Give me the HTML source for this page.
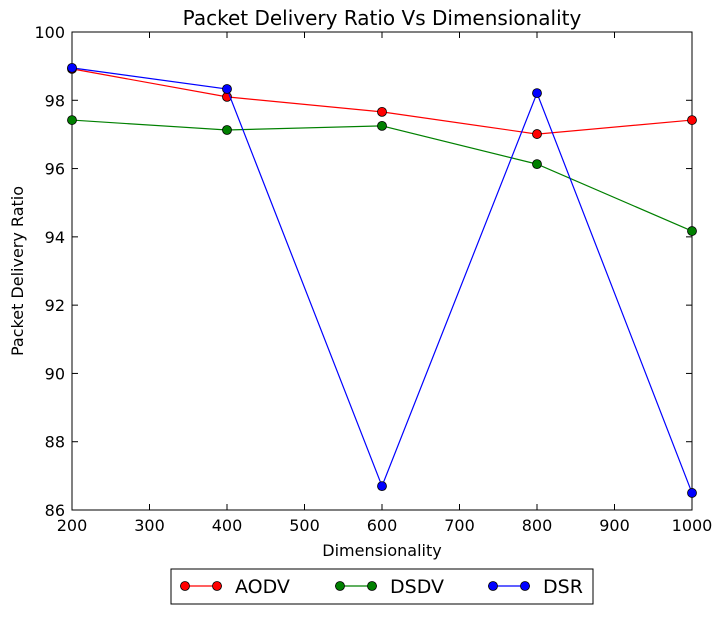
<!DOCTYPE html>
<html><head><meta charset="utf-8">
<style>
body{margin:0;background:#fff;}
svg text{font-family:"DejaVu Sans","Liberation Sans",sans-serif;}
</style></head>
<body>
<svg id="chart" width="723" height="614" xmlns="http://www.w3.org/2000/svg">
<rect width="723" height="614" fill="#fff"/>
<text x="382" y="25" font-size="20" text-anchor="middle">Packet Delivery Ratio Vs Dimensionality</text>
<g id="axes"></g>
<g id="series"></g>
<text x="382" y="556" font-size="16" text-anchor="middle">Dimensionality</text>
<text transform="translate(23,271) rotate(-90)" font-size="16" text-anchor="middle">Packet Delivery Ratio</text>
<g id="legend">
<rect x="171" y="569" width="422" height="35" fill="#fff" stroke="#000" stroke-width="1"/>
</g>
</svg>
<script>
const categories=[200,400,600,800,1000];
const aodv=[98.92,98.1,97.66,97.01,97.42];
const dsdv=[97.42,97.13,97.25,96.13,94.17];
const dsr=[98.95,98.33,86.7,98.21,86.5];
const xTicks=[200,300,400,500,600,700,800,900,1000];
const yTicks=[86,88,90,92,94,96,98,100];
const seriesNames=["AODV","DSDV","DSR"];
const seriesColors=["#ff0000","#008000","#0000ff"];
const L=72,R=692,T=32,B=510;
const xs=v=>L+(v-200)/800*(R-L);
const ys=v=>B-(v-86)/14*(B-T);
const NS="http://www.w3.org/2000/svg";
function mk(t,a,p){const e=document.createElementNS(NS,t);for(const k in a)e.setAttribute(k,a[k]);p.appendChild(e);return e;}
const ax=document.getElementById('axes');
xTicks.forEach(t=>{const x=xs(t);
 mk('line',{x1:x,x2:x,y1:B,y2:B-6,stroke:'#000'},ax);
 mk('line',{x1:x,x2:x,y1:T,y2:T+6,stroke:'#000'},ax);
 const tx=mk('text',{x:x,y:B+21,'font-size':16,'text-anchor':'middle'},ax);tx.textContent=t;
 
 });
yTicks.forEach(t=>{const y=ys(t);
 mk('line',{x1:L,x2:L+6,y1:y,y2:y,stroke:'#000'},ax);
 mk('line',{x1:R,x2:R-6,y1:y,y2:y,stroke:'#000'},ax);
 const tx=mk('text',{x:L-7,y:y+6,'font-size':16,'text-anchor':'end'},ax);tx.textContent=t;
 
 });
const sg=document.getElementById('series');
[aodv,dsdv,dsr].forEach((d,i)=>{
 const g=mk('g',{},sg);
 
 
 mk('polyline',{points:d.map((v,j)=>xs(categories[j])+','+ys(v)).join(' '),fill:'none',stroke:seriesColors[i],'stroke-width':1.2},g);
 d.forEach((v,j)=>{const c=mk('circle',{cx:xs(categories[j]),cy:ys(v),r:4.5,fill:seriesColors[i],stroke:'#000','stroke-width':0.8},g);
  
  });
});
mk('rect',{x:L,y:T,width:R-L,height:B-T,fill:'none',stroke:'#000','stroke-width':1},ax);
const lg=document.getElementById('legend');
const lx=[180,335,488];
seriesNames.forEach((n,i)=>{
 const g=mk('g',{},lg);
 
 
 mk('line',{x1:lx[i],x2:lx[i]+42,y1:586,y2:586,stroke:seriesColors[i],'stroke-width':1.2},g);
 mk('circle',{cx:lx[i]+5,cy:586,r:4.5,fill:seriesColors[i],stroke:'#000','stroke-width':0.8},g);
 mk('circle',{cx:lx[i]+37,cy:586,r:4.5,fill:seriesColors[i],stroke:'#000','stroke-width':0.8},g);
 const t=mk('text',{x:lx[i]+55,y:593,'font-size':19},g);t.textContent=n;
});
</script>
</body></html>
